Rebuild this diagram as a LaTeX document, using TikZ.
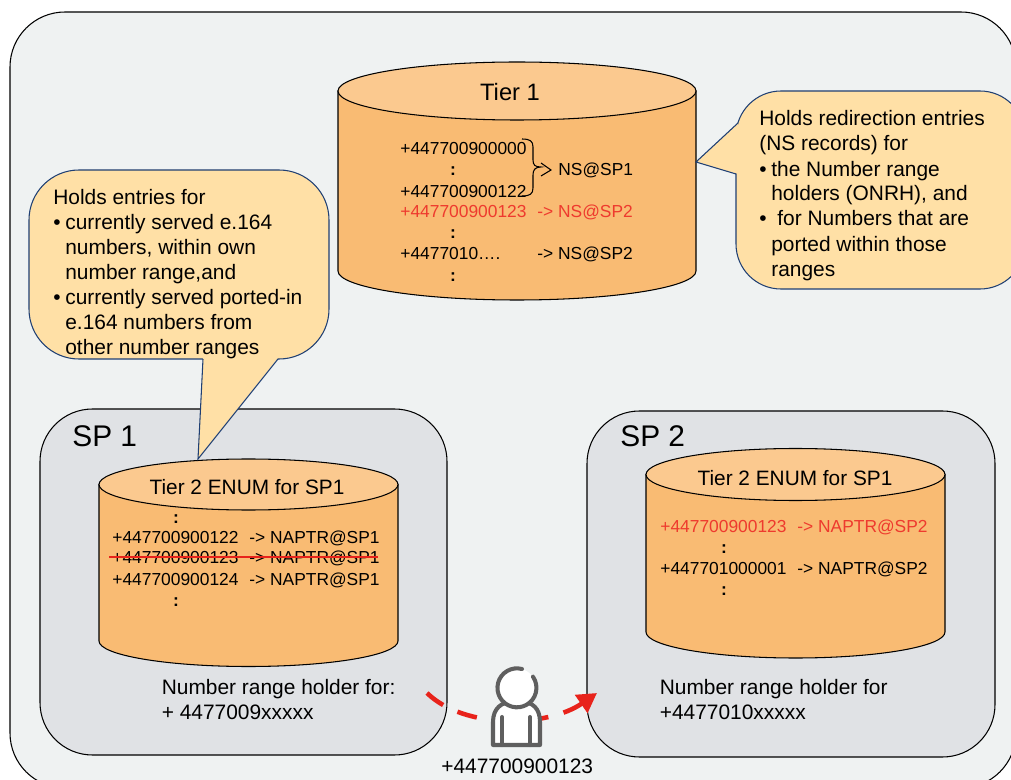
\documentclass[tikz,border=0pt]{standalone}
\usepackage{fontspec}
\setmainfont{Liberation Sans}
\usetikzlibrary{arrows.meta}
\definecolor{paneback}{HTML}{EFF2F2}
\definecolor{spback}{HTML}{E0E2E5}
\definecolor{drumbody}{HTML}{F9BB73}
\definecolor{drumtop}{HTML}{FBC98F}
\definecolor{noteback}{HTML}{FFE0A6}
\definecolor{noteline}{HTML}{1F3F73}
\definecolor{portred}{HTML}{E8231B}
\definecolor{entryred}{HTML}{EE3A2E}
\definecolor{persongray}{HTML}{5F5F5F}
\tikzset{
  spbox/.style={draw=black,fill=spback,line width=0.6pt},
  drum/.style={draw=black,line width=0.6pt},
  note/.style={draw=noteline,fill=noteback,line width=0.6pt},
  entry/.style={anchor=base west,inner sep=0pt,font=\fontsize{9.9}{12}\selectfont},
  dots/.style={anchor=base,inner sep=0pt,font=\fontsize{9.9}{12}\selectfont\bfseries},
  notetext/.style={anchor=base west,inner sep=0pt,font=\fontsize{11.9}{14}\selectfont},
  drumtitle/.style={anchor=base,inner sep=0pt},
  sptitle/.style={anchor=base west,inner sep=0pt,font=\fontsize{17}{20}\selectfont},
  person/.style={draw=persongray,fill=white,line width=2.3pt,line cap=round,line join=round}
}
% #1 left, #2 right, #3 centre of the top, #4 half height of the top, #5 centre of the bottom
\newcommand{\drumshape}[5]{
  \path[drum,fill=drumbody] (#1,#3) -- (#1,#5) arc[start angle=180,end angle=0,x radius={(#2-#1)/2},y radius=#4] -- (#2,#3) -- cycle;
  \path[drum,fill=drumtop] ({(#1+#2)/2},#3) ellipse[x radius={(#2-#1)/2},y radius=#4];
}
\begin{document}
\begin{tikzpicture}[x=0.02cm,y=-0.02cm]
\useasboundingbox (0,0) rectangle (1011,780);
\clip (0,0) rectangle (1011,780);
\fill[white] (0,0) rectangle (1011,780);
\draw[draw=black,fill=paneback,line width=0.6pt,rounded corners=1.1cm] (10,12) rectangle (1016,788);

% the two service providers
\draw[spbox,rounded corners=1.05cm] (40,409) rectangle (447,755);
\draw[spbox,rounded corners=1.05cm] (587,411) rectangle (995,757);
\node[sptitle] (sponetitle) at (72,447) {SP 1};
\node[sptitle] (sptwotitle) at (620,447) {SP 2};

% databases
\drumshape{338}{696}{91}{29}{271}
\drumshape{99}{398}{484.5}{25.5}{641}
\drumshape{646}{945}{474.5}{26}{632}

% callouts
\draw[note,rounded corners=1cm] (29,170) rectangle (329,359);
\fill[noteback] (203,358) -- (198,459) -- (278,358) -- cycle;
\draw[note,fill=none] (203,359) -- (198,459) -- (278,359);
\draw[note,rounded corners=0.9cm] (736,91) rectangle (1025,289);
\fill[noteback] (738,123) -- (696,162) -- (738,174) -- cycle;
\draw[note,fill=none] (738,123) -- (696,162) -- (736,174);

% Tier 1
\node[drumtitle,font=\fontsize{13.5}{16}\selectfont] (tieronetitle) at (510,101) {Tier 1};
\node[entry] (tone) at (400,155) {+447700900000};
\node[dots] (tonedots) at (453,176) {:};
\node[entry] (ttwo) at (400,198) {+447700900122};
\node[entry,text=entryred] (tthree) at (400,218) {+447700900123};
\node[entry,text=entryred] (tthreeto) at (537,218) {-> NS@SP2};
\node[dots] (tmoredots) at (453,239) {:};
\node[entry] (tfour) at (400,260) {+4477010….};
\node[entry] (tfourto) at (537,260) {-> NS@SP2};
\node[dots] (tlastdots) at (453,282) {:};
\node[entry] (tsp) at (558,176) {NS@SP1};
\draw[black,line width=0.6pt] (522,139) .. controls (530,139) and (533,141) .. (533,147) -- (533,160) .. controls (533,165) and (535,167) .. (541,167) .. controls (535,167) and (533,170) .. (533,175) -- (533,188) .. controls (533,194) and (530,196) .. (522,196);
\draw[black,line width=0.6pt] (541,163) -- (551,170) -- (541,176);

% Tier 2 of SP 1
\node[drumtitle,font=\fontsize{11.85}{14}\selectfont] (sponedrum) at (247,495) {Tier 2 ENUM for SP1};
\node[dots] (sonedots) at (176,523) {:};
\node[entry] (sone) at (112,543) {+447700900122};
\node[entry] (soneto) at (249,543) {-> NAPTR@SP1};
\node[entry] (stwo) at (112,563) {+447700900123};
\node[entry] (stwoto) at (249,563) {-> NAPTR@SP1};
\node[entry] (sthree) at (112,585) {+447700900124};
\node[entry] (sthreeto) at (249,585) {-> NAPTR@SP1};
\node[dots] (slastdots) at (176,606) {:};
\draw[portred,line width=1.7pt] (109,557) -- (378,557);

% Tier 2 of SP 2
\node[drumtitle,font=\fontsize{11.85}{14}\selectfont] (sptwodrum) at (795,485) {Tier 2 ENUM for SP1};
\node[entry,text=entryred] (pone) at (660,532) {+447700900123};
\node[entry,text=entryred] (poneto) at (797,532) {-> NAPTR@SP2};
\node[dots] (pdots) at (724,553) {:};
\node[entry] (ptwo) at (660,574) {+447701000001};
\node[entry] (ptwoto) at (797,574) {-> NAPTR@SP2};
\node[dots] (plastdots) at (724,595) {:};

% left callout
\node[notetext] (lone) at (53,205) {Holds entries for};
\node[notetext] (lbulone) at (53,230) {•};
\node[notetext] (ltwo) at (65,230) {currently served e.164};
\node[notetext] (lthree) at (65,255) {numbers, within own};
\node[notetext] (lfour) at (65,280) {number range,and};
\node[notetext] (lbultwo) at (53,305) {•};
\node[notetext] (lfive) at (65,305) {currently served ported-in};
\node[notetext] (lsix) at (65,330) {e.164 numbers from};
\node[notetext] (lseven) at (65,355) {other number ranges};

% right callout
\node[notetext] (rone) at (759,126) {Holds redirection entries};
\node[notetext] (rtwo) at (759,151) {(NS records) for};
\node[notetext] (rbulone) at (759,177) {•};
\node[notetext] (rthree) at (771,177) {the Number range};
\node[notetext] (rfour) at (771,201) {holders (ONRH), and};
\node[notetext] (rbultwo) at (759,226) {•};
\node[notetext] (rfive) at (777,226) {for Numbers that are};
\node[notetext] (rsix) at (771,252) {ported within those};
\node[notetext] (rseven) at (771,277) {ranges};

% range holders
\node[notetext] (honeup) at (161.5,694) {Number range holder for:};
\node[notetext] (honedown) at (161.5,719) {+ 4477009xxxxx};
\node[notetext] (htwoup) at (659.5,694) {Number range holder for};
\node[notetext] (htwodown) at (659.5,719) {+4477010xxxxx};

% porting
\coordinate (leave) at (427,693);
\coordinate (arrive) at (597,693);
\draw[portred,line width=2.6pt,dash pattern=on 11.5pt off 9pt,-{Triangle[length=11pt,width=12pt]}] (leave) .. controls (465,730) and (548,727) .. (arrive);

% the subscriber
\draw[person] (493,745) -- (493,722) .. controls (493,708) and (502,702) .. (512,702) -- (522,702) .. controls (532,702) and (540,708) .. (540,722) -- (540,745) -- cycle;
\draw[person] (502,717) -- (502,745);
\draw[person] (530,717) -- (530,745);
\fill[white] (517,688) circle[radius=0.39cm];
\draw[person,fill=none] (522,669) arc[start angle=75,end angle=395,radius=0.39cm];
\node[notetext] (number) at (441,773) {+447700900123};
\end{tikzpicture}
\end{document}
